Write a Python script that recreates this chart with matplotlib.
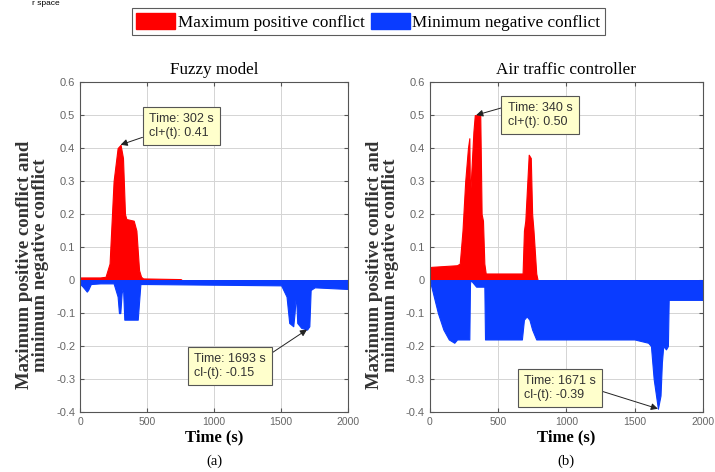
import matplotlib.pyplot as plt
from matplotlib.patches import Patch

# fuzzy model (a)
fz_pos_t = [0, 150, 190, 220, 250, 280, 302, 320, 335, 345, 400, 420, 440, 455, 470, 750, 760, 2000]
fz_pos = [0.008, 0.008, 0.01, 0.05, 0.3, 0.40, 0.41, 0.37, 0.2, 0.185, 0.18, 0.15, 0.03, 0.01, 0.005, 0.003, 0.0, 0.0]
fz_neg_t = [0, 20, 50, 60, 80, 150, 250, 280, 290, 300, 310, 320, 330, 340, 420, 430, 450, 500,
            1000, 1500, 1540, 1560, 1590, 1600, 1610, 1620, 1650, 1693, 1710, 1720, 1750, 2000]
fz_neg = [-0.012, -0.02, -0.035, -0.03, -0.012, -0.01, -0.01, -0.05, -0.1, -0.1, -0.04, -0.02, -0.12, -0.12,
          -0.12, -0.12, -0.012, -0.012, -0.014, -0.016, -0.05, -0.13, -0.14, -0.1, -0.04, -0.13, -0.145, -0.15,
          -0.14, -0.03, -0.022, -0.027]

# air traffic controller (b)
atc_pos_t = [0, 10, 200, 220, 240, 260, 280, 290, 295, 305, 320, 330, 340, 370, 380, 390, 400, 410,
             680, 690, 700, 715, 725, 740, 750, 760, 780, 790, 2000]
atc_pos = [0.035, 0.04, 0.045, 0.05, 0.15, 0.3, 0.4, 0.43, 0.25, 0.33, 0.45, 0.5, 0.50, 0.50, 0.2, 0.18,
           0.05, 0.02, 0.02, 0.15, 0.18, 0.3, 0.38, 0.37, 0.2, 0.15, 0.02, 0.0, 0.0]
atc_neg_t = [0, 30, 60, 100, 140, 180, 200, 290, 295, 300, 340, 345, 400, 405, 415, 675, 690, 710, 730,
             750, 760, 780, 1500, 1600, 1620, 1640, 1671, 1690, 1700, 1710, 1730, 1744, 1750, 1770, 2000]
atc_neg = [0.0, -0.05, -0.1, -0.15, -0.18, -0.19, -0.18, -0.18, -0.01, 0.0, -0.02, -0.02, -0.02, -0.18,
           -0.18, -0.18, -0.12, -0.11, -0.12, -0.15, -0.16, -0.18, -0.18, -0.19, -0.2, -0.3, -0.39, -0.35,
           -0.25, -0.2, -0.21, -0.2, -0.06, -0.06, -0.06]

xticks = [0, 500, 1000, 1500, 2000]
yticks = [-0.4, -0.3, -0.2, -0.1, 0, 0.1, 0.2, 0.3, 0.4, 0.5, 0.6]
ytick_labels = ['-0.4', '-0.3', '-0.2', '-0.1', '0', '0.1', '0.2', '0.3', '0.4', '0.5', '0.6']

panels = [
    ('Fuzzy model', '(a)', fz_pos_t, fz_pos, fz_neg_t, fz_neg,
     [('Time: 302 s\ncl+(t): 0.41', (302, 0.41), (515, 0.506), (0, 0.15)),
      ('Time: 1693 s\ncl-(t): -0.15', (1693, -0.15), (851, -0.221), (1, 0.85))]),
    ('Air traffic controller', '(b)', atc_pos_t, atc_pos, atc_neg_t, atc_neg,
     [('Time: 340 s\ncl+(t): 0.50', (340, 0.50), (571, 0.539), (0, 0.85)),
      ('Time: 1671 s\ncl-(t): -0.39', (1671, -0.39), (689, -0.288), (1, 0.45))]),
]

serif = 'Liberation Serif'
sans = 'Liberation Sans'

fig = plt.figure(figsize=(7.15, 4.72), dpi=100)
rects = [[0.112, 0.127, 0.375, 0.699], [0.601, 0.127, 0.382, 0.699]]

for rect, (title, tag, pt, pv, nt, nv, notes) in zip(rects, panels):
    ax = fig.add_axes(rect)
    ax.fill_between(pt, 0, pv, color='#ff0000', lw=0.8, edgecolor='#ff0000')
    ax.fill_between(nt, 0, nv, color='#0a3cff', lw=0.8, edgecolor='#0a3cff')
    ax.set_xlim(0, 2000)
    ax.set_ylim(-0.4, 0.6)
    ax.set_xticks(xticks)
    ax.set_xticklabels([str(t) for t in xticks], fontsize=7.5, color='#666666', family=sans)
    ax.set_yticks(yticks)
    ax.set_yticklabels(ytick_labels, fontsize=8, color='#666666', family=sans)
    ax.tick_params(direction='in', length=3, top=True, right=True, color='#555555')
    ax.grid(True, color='#d4d4d4', lw=0.7)
    ax.set_axisbelow(True)
    for s in ax.spines.values():
        s.set_color('#555555')
        s.set_linewidth(0.8)
    ax.set_title(title, family=serif, fontsize=12.3, pad=6)
    ax.set_xlabel('Time (s)', family=serif, fontsize=12, fontweight='bold', labelpad=2)
    ax.text(0.5, -0.13, tag, transform=ax.transAxes, ha='center', va='top', family=serif, fontsize=10.5)
    ax.set_ylabel('Maximum positive conflict and\nminimum negative conflict', family=serif,
                  fontsize=13.5, fontweight='bold', color='#333333', linespacing=0.9)
    ax.yaxis.set_label_coords(-31 / (rect[2] * 715), 0.445)
    for txt, xy, xyt, rel in notes:
        ax.annotate(txt, xy=xy, xytext=xyt, ha='left', va='top', fontsize=9, family=sans, color='#333333',
                    bbox=dict(boxstyle='square,pad=0.5', fc='#ffffcc', ec='#555555', lw=0.8),
                    arrowprops=dict(arrowstyle='-|>', color='#222222', lw=0.7, relpos=rel,
                                    mutation_scale=10, shrinkA=0, shrinkB=0))

handles = [Patch(facecolor='#ff0000', edgecolor='#ff0000'), Patch(facecolor='#0a3cff', edgecolor='#0a3cff')]
leg = fig.legend(handles, ['Maximum positive conflict', 'Minimum negative conflict'], loc='center',
                 bbox_to_anchor=(0.515, 0.954), ncol=2, frameon=True, fancybox=False,
                 prop={'family': serif, 'size': 12.3}, handlelength=2.3, handleheight=1.1,
                 handletextpad=0.15, columnspacing=0.35, borderpad=0.25, borderaxespad=0)
leg.get_frame().set_edgecolor('#333333')
leg.get_frame().set_linewidth(0.8)

fig.text(0.045, 0.999, 'r space', family=sans, fontsize=6, va='top')

fig.savefig('out.png', dpi=100)
